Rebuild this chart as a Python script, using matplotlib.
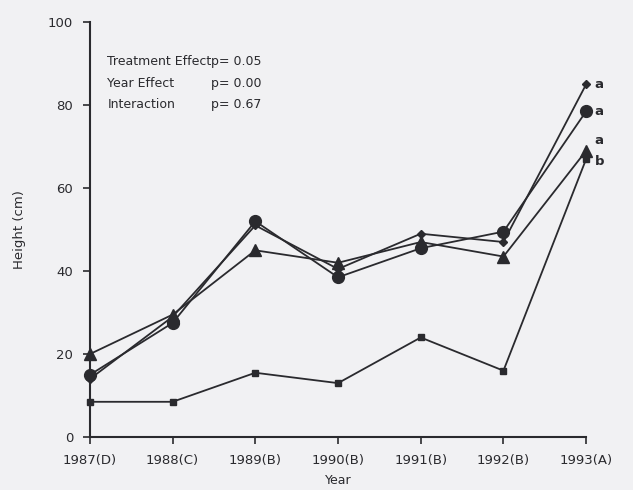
import numpy as np
import matplotlib.pyplot as plt

years = ['1987(D)', '1988(C)', '1989(B)', '1990(B)', '1991(B)', '1992(B)', '1993(A)']
diamond = [14, 29, 51, 40.5, 49, 47, 85]
circle = [15, 27.5, 52, 38.5, 45.5, 49.5, 78.5]
triangle = [20, 29.5, 45, 42, 47, 43.5, 69]
square = [8.5, 8.5, 15.5, 13, 24, 16, 67]
end_letters = ['a', 'a', 'a', 'b']

bg = '#f1f1f3'
ink = '#2a2a2e'

fig = plt.figure(figsize=(6.33, 4.9), dpi=100, facecolor=bg)
ax = fig.add_axes([0.142, 0.108, 0.784, 0.847], facecolor=bg)

x = np.arange(len(years))
ax.plot(x, square, color=ink, lw=1.3, marker='s', ms=5, clip_on=False)
ax.plot(x, triangle, color=ink, lw=1.3, marker='^', ms=8, clip_on=False)
ax.plot(x, circle, color=ink, lw=1.3, marker='o', ms=8.5, clip_on=False)
ax.plot(x, diamond, color=ink, lw=1.3, marker='D', ms=4.5, clip_on=False)

# letters next to the 1993 points
ends = [diamond[-1], circle[-1], triangle[-1] + 2.5, square[-1] - 0.5]
for yv, lab in zip(ends, end_letters):
    ax.text(x[-1] + 0.1, yv, lab, fontsize=9.5, color=ink, va='center', ha='left',
            fontweight='bold')

ax.set_xlim(0, 6)
ax.set_ylim(0, 100)
ax.set_xticks(x)
ax.set_xticklabels(years, fontsize=9.5, color=ink, fontweight='medium')
ax.set_yticks([0, 20, 40, 60, 80, 100])
ax.set_yticklabels(['0', '20', '40', '60', '80', '100'], fontsize=9.5, color=ink,
                   fontweight='medium')
ax.tick_params(direction='out', length=5, width=1.2, color=ink, pad=7)
for s in ['top', 'right']:
    ax.spines[s].set_visible(False)
for s in ['left', 'bottom']:
    ax.spines[s].set_linewidth(1.5)
    ax.spines[s].set_color(ink)

ax.set_xlabel('Year', fontsize=9, color=ink, labelpad=5, fontweight='medium')
ax.set_ylabel('Height (cm)', fontsize=9.5, color=ink, labelpad=16, fontweight='medium')

stats = [('Treatment Effect', 'p= 0.05'), ('Year Effect', 'p= 0.00'), ('Interaction', 'p= 0.67')]
for i, (name, p) in enumerate(stats):
    yy = 0.905 - i * 0.052
    ax.text(0.035, yy, name, transform=ax.transAxes, fontsize=9, color=ink, va='center',
            fontweight='medium')
    ax.text(0.245, yy, p, transform=ax.transAxes, fontsize=9, color=ink, va='center',
            fontweight='medium')

fig.savefig('out.png', dpi=100, facecolor=bg)
